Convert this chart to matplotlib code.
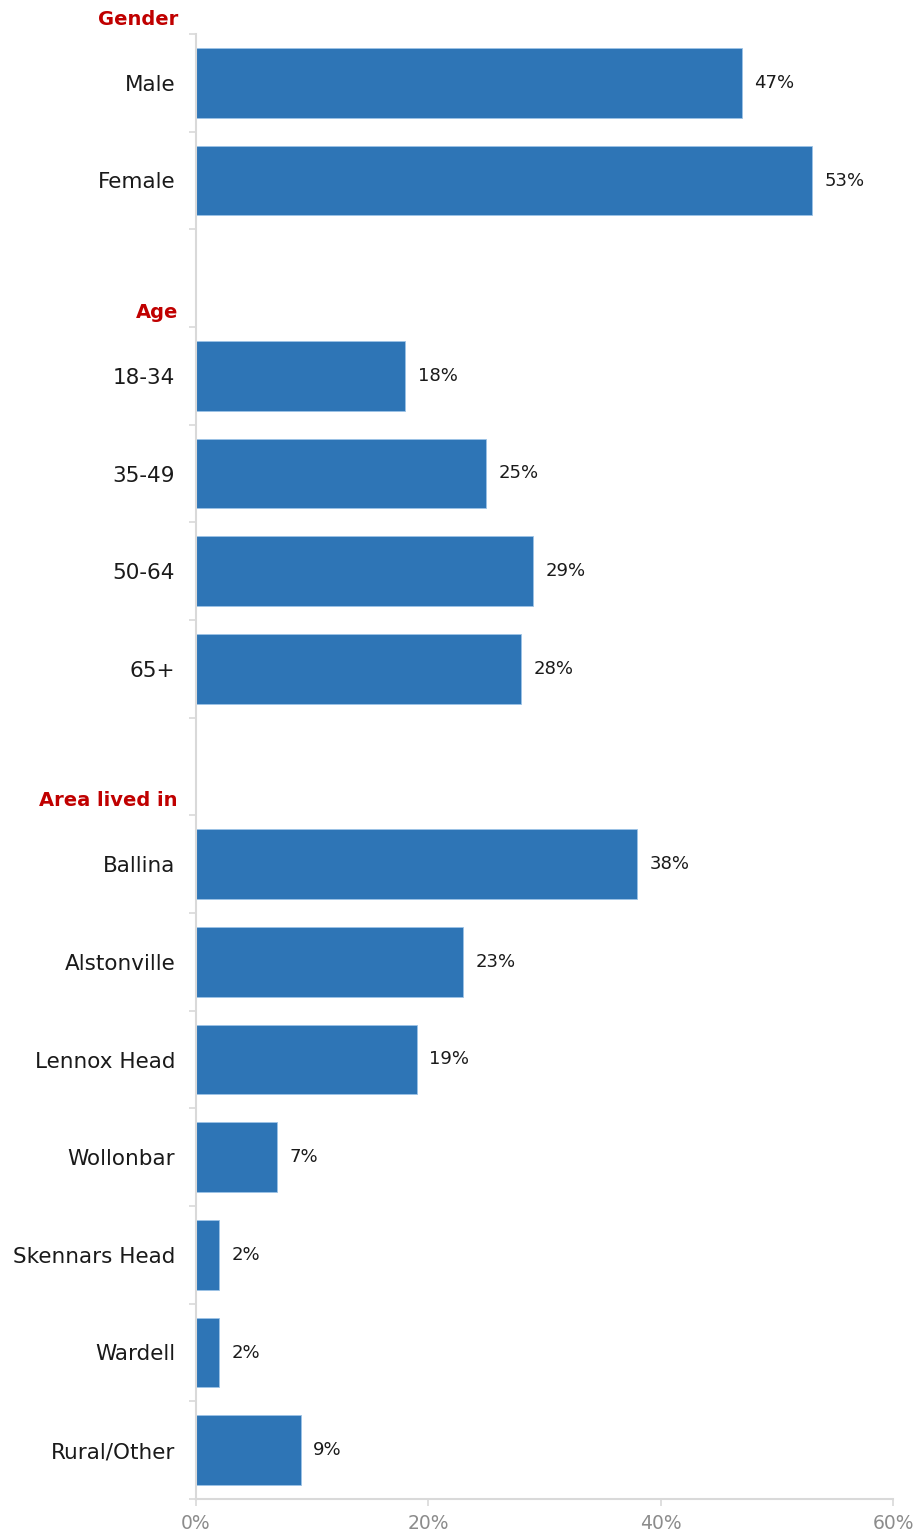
import numpy as np
import matplotlib.pyplot as plt

# rows top to bottom; empty strings are spacer rows in front of each group header
labels = ['Male', 'Female', '',
          '18-34', '35-49', '50-64', '65+', '',
          'Ballina', 'Alstonville', 'Lennox Head', 'Wollonbar',
          'Skennars Head', 'Wardell', 'Rural/Other']
values = [47, 53, None,
          18, 25, 29, 28, None,
          38, 23, 19, 7, 2, 2, 9]

# group headers and the row each one sits above
headers = ['Gender', 'Age', 'Area lived in']
header_rows = [0, 3, 8]

xticks = [0, 20, 40, 60]

bar_color = '#2E75B6'
head_color = '#C00000'
axis_color = '#D9D9D9'
font = 'DejaVu Sans'

fig = plt.figure(figsize=(9.19, 15.37), dpi=100)
ax = fig.add_axes([196/919, 1 - 1499/1537, (893-196)/919, (1499-34)/1537])

y = np.arange(len(labels))
for i, v in enumerate(values):
    if v is None:
        continue
    ax.barh(y[i], v, height=0.71, color=bar_color, edgecolor='#9DC3E6', linewidth=0.6)
    ax.annotate(f'{v}%', xy=(v, y[i]), xytext=(9, 0), textcoords='offset points',
                ha='left', va='center', fontsize=13, family=font, color='#1a1a1a')

ax.set_ylim(len(labels) - 0.5, -0.5)
ax.set_xlim(0, 60)

ax.set_yticks(y)
ax.set_yticklabels(labels, fontsize=15.5, family=font, color='#1a1a1a')
ax.set_yticks(np.arange(len(labels) + 1) - 0.5, minor=True)
ax.tick_params(axis='y', which='major', length=0, pad=15)
ax.tick_params(axis='y', which='minor', length=5, width=1.2, color=axis_color)

ax.set_xticks(xticks)
ax.set_xticklabels([f'{t}%' for t in xticks], fontsize=13.5, family=font, color='#8C8C8C')
ax.tick_params(axis='x', length=5, width=1.2, color=axis_color, pad=6)

for s in ['top', 'right']:
    ax.spines[s].set_visible(False)
for s in ['left', 'bottom']:
    ax.spines[s].set_color(axis_color)
    ax.spines[s].set_linewidth(1.5)

for h, r in zip(headers, header_rows):
    ax.annotate(h, xy=(0, r - 0.5), xycoords=('axes fraction', 'data'),
                xytext=(-13, 10.5), textcoords='offset points',
                ha='right', va='center', fontsize=14, fontweight='bold',
                family=font, color=head_color, annotation_clip=False)

fig.savefig('out.png', dpi=100)
